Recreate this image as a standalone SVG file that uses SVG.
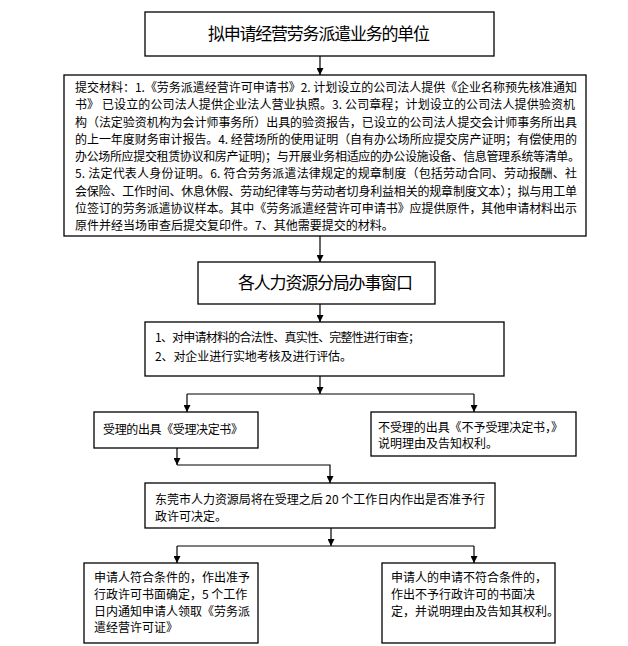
<svg xmlns="http://www.w3.org/2000/svg" width="628" height="646" viewBox="0 0 628 646">
<style>
.box{fill:#fff;stroke:#000;stroke-width:1.3}
.t{font-family:"Noto Sans CJK SC","Liberation Sans",sans-serif;font-size:12px;fill:#000}
.big{font-family:"Noto Sans CJK SC","Liberation Sans",sans-serif;font-size:17px;fill:#000}
.c{fill:none;stroke:#000;stroke-width:1.2}
</style>
<defs>
<marker id="ah" viewBox="0 0 8 8" refX="8" refY="4" markerWidth="7" markerHeight="7" markerUnits="userSpaceOnUse" orient="auto">
<path d="M0,0 L8,4 L0,8 z" fill="#000"/>
</marker>
</defs>
<rect width="628" height="646" fill="#fff"/>
<g id="connectors">
<path class="c" d="M320,56 V75" marker-end="url(#ah)"/>
<path class="c" d="M320,236 V262" marker-end="url(#ah)"/>
<path class="c" d="M320,304 V322" marker-end="url(#ah)"/>
<path class="c" d="M320,376 V394" marker-end="url(#ah)"/>
<path class="c" d="M187,394 H474"/>
<path class="c" d="M187,394 V412" marker-end="url(#ah)"/>
<path class="c" d="M474,394 V412" marker-end="url(#ah)"/>
<path class="c" d="M177,448 V465" marker-end="url(#ah)"/>
<path class="c" d="M177,465 H330 V483" marker-end="url(#ah)"/>
<path class="c" d="M331,528 V546" marker-end="url(#ah)"/>
<path class="c" d="M177,546 H474"/>
<path class="c" d="M177,546 V563" marker-end="url(#ah)"/>
<path class="c" d="M474,546 V563" marker-end="url(#ah)"/>
</g>
<g id="n1">
<rect class="box" x="145" y="12" width="349" height="44"/>
<text class="big" x="319" y="40" text-anchor="middle" textLength="222" lengthAdjust="spacing">拟申请经营劳务派遣业务的单位</text>
</g>
<g id="n2">
<rect class="box" x="64" y="75" width="522" height="161"/>
<text class="t" x="75" y="92" textLength="502" lengthAdjust="spacing">提交材料：1.《劳务派遣经营许可申请书》2. 计划设立的公司法人提供《企业名称预先核准通知</text>
<text class="t" x="75" y="109.25" textLength="500" lengthAdjust="spacing">书》 已设立的公司法人提供企业法人营业执照。3. 公司章程；计划设立的公司法人提供验资机</text>
<text class="t" x="75" y="126.5" textLength="502" lengthAdjust="spacing">构（法定验资机构为会计师事务所）出具的验资报告，已设立的公司法人提交会计师事务所出具</text>
<text class="t" x="75" y="143.75" textLength="502" lengthAdjust="spacing">的上一年度财务审计报告。4. 经营场所的使用证明（自有办公场所应提交房产证明；有偿使用的</text>
<text class="t" x="75" y="161" textLength="505" lengthAdjust="spacing">办公场所应提交租赁协议和房产证明)；与开展业务相适应的办公设施设备、信息管理系统等清单。</text>
<text class="t" x="75" y="178.25" textLength="502" lengthAdjust="spacing">5. 法定代表人身份证明。6. 符合劳务派遣法律规定的规章制度（包括劳动合同、劳动报酬、社</text>
<text class="t" x="75" y="195.5" textLength="502" lengthAdjust="spacing">会保险、工作时间、休息休假、劳动纪律等与劳动者切身利益相关的规章制度文本）；拟与用工单</text>
<text class="t" x="75" y="212.75" textLength="502" lengthAdjust="spacing">位签订的劳务派遣协议样本。其中《劳务派遣经营许可申请书》应提供原件，其他申请材料出示</text>
<text class="t" x="75" y="230">原件并经当场审查后提交复印件。7、其他需要提交的材料。</text>
</g>
<g id="n3">
<rect class="box" x="198" y="262" width="237" height="42"/>
<text class="big" x="325.5" y="289" text-anchor="middle" textLength="175" lengthAdjust="spacing">各人力资源分局办事窗口</text>
</g>
<g id="n4">
<rect class="box" x="145" y="322" width="359" height="54"/>
<text class="t" x="155" y="342" textLength="265" lengthAdjust="spacing">1、对申请材料的合法性、真实性、完整性进行审查；</text>
<text class="t" x="155" y="361" textLength="197" lengthAdjust="spacing">2、对企业进行实地考核及进行评估。</text>
</g>
<g id="n5">
<rect class="box" x="94" y="412" width="164" height="36"/>
<text class="t" x="103" y="434" textLength="140" lengthAdjust="spacing">受理的出具《受理决定书》</text>
</g>
<g id="n6">
<rect class="box" x="371" y="412" width="205" height="44"/>
<text class="t" x="378" y="432" textLength="185" lengthAdjust="spacing">不受理的出具《不予受理决定书，》</text>
<text class="t" x="378" y="448">说明理由及告知权利。</text>
</g>
<g id="n7">
<rect class="box" x="145" y="483" width="350" height="45"/>
<text class="t" x="155" y="504" textLength="330" lengthAdjust="spacing">东莞市人力资源局将在受理之后 20 个工作日内作出是否准予行</text>
<text class="t" x="155" y="521">政许可决定。</text>
</g>
<g id="n8">
<rect class="box" x="84" y="563" width="174" height="80"/>
<text class="t" x="94" y="582">申请人符合条件的，作出准予</text>
<text class="t" x="94" y="599">行政许可书面确定，5 个工作</text>
<text class="t" x="94" y="616">日内通知申请人领取《劳务派</text>
<text class="t" x="94" y="632">遣经营许可证》</text>
</g>
<g id="n9">
<rect class="box" x="382" y="563" width="173" height="80"/>
<text class="t" x="391" y="582">申请人的申请不符合条件的，</text>
<text class="t" x="391" y="599">作出不予行政许可的书面决</text>
<text class="t" x="391" y="616">定，并说明理由及告知其权利。</text>
</g>
</svg>
